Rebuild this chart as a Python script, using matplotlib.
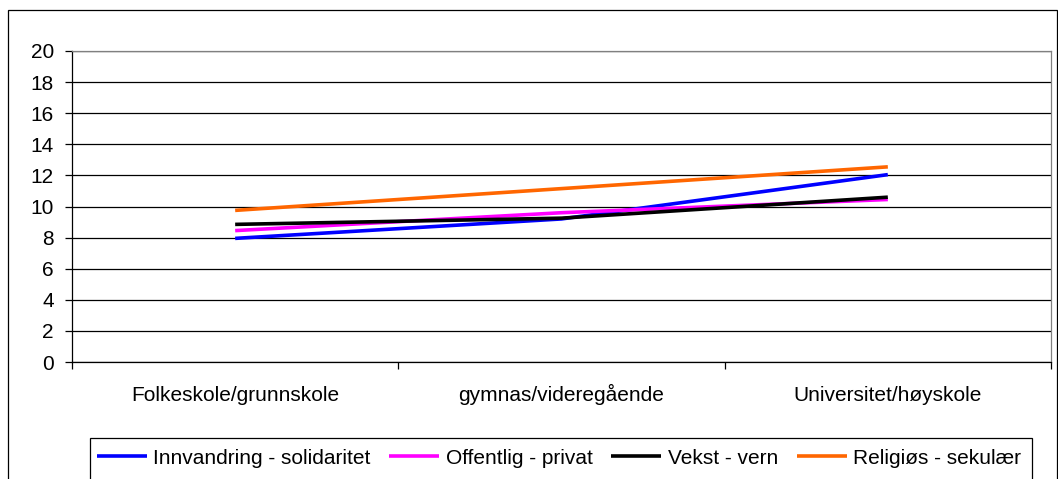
import matplotlib
matplotlib.use("Agg")
import numpy as np
import matplotlib.pyplot as plt
from matplotlib.patches import Rectangle

plt.rcParams["font.family"] = ["Liberation Sans", "DejaVu Sans"]

categories = ["Folkeskole/grunnskole", "gymnas/videregående", "Universitet/høyskole"]
innvandring = [7.95, 9.2, 12.05]
offentlig = [8.45, 9.6, 10.45]
vekst = [8.85, 9.25, 10.6]
religios = [9.75, 11.15, 12.55]

series = [
    ("Innvandring - solidaritet", innvandring, "#0000ff"),
    ("Offentlig - privat", offentlig, "#ff00ff"),
    ("Vekst - vern", vekst, "#000000"),
    ("Religiøs - sekulær", religios, "#ff6600"),
]

W, H = 1058, 479
fig = plt.figure(figsize=(W / 100, H / 100), dpi=100)
# outer chart border (runs off the bottom of the picture)
fig.patches.append(Rectangle((8 / W, -0.05), 1049 / W, 1 - 10 / H + 0.05,
                             transform=fig.transFigure, fill=False,
                             edgecolor="black", lw=0.9))
# legend box, also cut off at the bottom
fig.patches.append(Rectangle((90 / W, -0.05), (1032 - 90) / W, 1 - 438 / H + 0.05,
                             transform=fig.transFigure, fill=False,
                             edgecolor="black", lw=0.9))

ax = fig.add_axes([72 / W, 1 - 362 / H, (1051 - 72) / W, (362 - 51) / H])
x = np.arange(len(categories))
for name, vals, c in series:
    ax.plot(x, vals, color=c, lw=2.6, label=name, solid_capstyle="butt")

ax.set_xlim(-0.5, len(categories) - 0.5)
ax.set_ylim(0, 20)
ax.set_yticks(np.arange(0, 21, 2))
ax.yaxis.grid(True, color="black", lw=0.9)
ax.set_axisbelow(True)
ax.set_xticks(x)
ax.set_xticklabels(categories, fontsize=15, va="baseline")
ax.set_xticks(np.arange(-0.5, len(categories)), minor=True)
ax.tick_params(axis="x", which="major", length=0, pad=28)
ax.tick_params(axis="x", which="minor", length=5, width=0.9, direction="out")
ax.tick_params(axis="y", length=5, width=0.9, labelsize=15, pad=8)
for s in ["left", "bottom"]:
    ax.spines[s].set_color("black")
    ax.spines[s].set_linewidth(0.9)
for s in ["top", "right"]:
    ax.spines[s].set_color("#808080")
    ax.spines[s].set_linewidth(0.9)

leg = fig.legend(loc="center left", bbox_to_anchor=(97 / W, 1 - 458 / H),
                 ncol=4, fontsize=15, frameon=False,
                 handlelength=2.4, handletextpad=0.3,
                 columnspacing=0.9, borderpad=0, borderaxespad=0)

fig.savefig("out.png", dpi=100)
